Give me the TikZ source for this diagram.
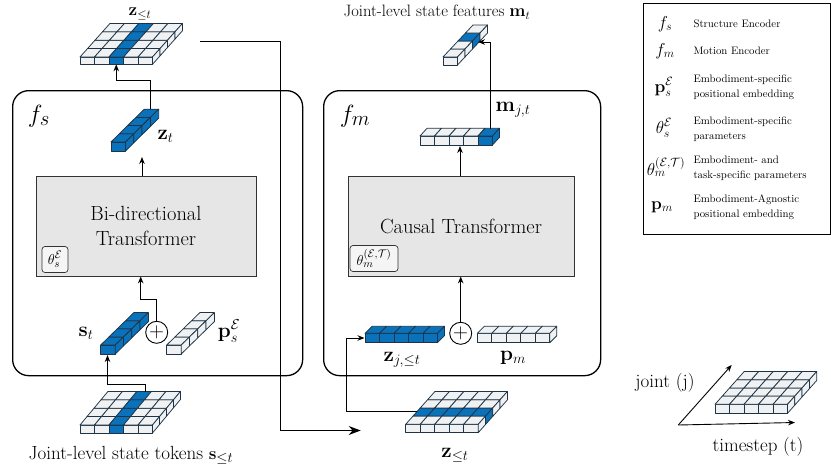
\documentclass[tikz,border=0pt]{standalone}
\usepackage{amsmath,amssymb}
\usetikzlibrary{arrows.meta,calc}
\definecolor{cblue}{HTML}{0A72BA}
\definecolor{cwhite}{HTML}{F0F1F2}
\definecolor{cedge}{HTML}{1E3446}
\definecolor{gfill}{HTML}{E6E6E6}
% #1 X, #2 Y (front top-left), #3 ncols, #4 nrows, #5 blue col, #6 blue row, #7 dx, #8 dy, #9 h
\newcommand{\cubegrid}[9]{%
  \foreach \ic in {1,...,#3}{%
    \pgfmathtruncatemacro{\bl}{or(\ic-1==#5,#6==0)}%
    \ifnum\bl=1 \def\fc{cblue}\else\def\fc{cwhite}\fi
    \draw[cellst,fill=\fc] ({#1+(\ic-1)*14.5},{#2}) rectangle ++(14.5,#9);
    \foreach \ir in {1,...,#4}{%
      \pgfmathtruncatemacro{\bl}{or(\ic-1==#5,\ir-1==#6)}%
      \ifnum\bl=1 \def\fc{cblue}\else\def\fc{cwhite}\fi
      \draw[cellst,fill=\fc] ({#1+(\ic-1)*14.5+(\ir-1)*(#7)},{#2+(\ir-1)*(#8)}) -- ++(14.5,0) -- ++(#7,#8) -- ++(-14.5,0) -- cycle;
    }
  }
  \foreach \ir in {1,...,#4}{%
    \pgfmathtruncatemacro{\bl}{or(#3-1==#5,\ir-1==#6)}%
    \ifnum\bl=1 \def\fc{cblue}\else\def\fc{cwhite}\fi
    \draw[cellst,fill=\fc] ({#1+#3*14.5+(\ir-1)*(#7)},{#2+(\ir-1)*(#8)}) -- ++(#7,#8) -- ++(0,#9) -- ++({-(#7)},{-(#8)}) -- cycle;
  }
}
\begin{document}
\begin{tikzpicture}[x=1pt,y=-1pt,
  cellst/.style={draw=cedge, line width=0.75pt, line join=round},
  conn/.style={draw=black, line width=0.9pt, -{Stealth[length=7pt,width=5.5pt]}},
  bigconn/.style={draw=black, line width=1pt, -{Stealth[length=12pt,width=9pt]}},
  bigbox/.style={draw=black, line width=1.3pt, rounded corners=16pt, inner sep=0pt},
  graybox/.style={draw=black!80, fill=gfill, line width=0.8pt, align=center, font=\fontsize{20.5}{24.5}\selectfont},
  thbox/.style={draw=black!80, fill=white!96!black, rounded corners=3pt, line width=0.7pt, inner sep=1pt, font=\fontsize{15}{16}\selectfont},
  lbl/.style={font=\fontsize{19}{22}\selectfont},
  mlbl/.style={font=\fontsize{20}{22}\selectfont},
  fsym/.style={font=\fontsize{28}{30}\selectfont},
  legtxt/.style={font=\fontsize{10.8}{14.8}\selectfont, align=left, anchor=west},
  legsym/.style={font=\fontsize{17}{18}\selectfont},
  opl/.style={draw=black, circle, line width=0.9pt, minimum size=22pt, inner sep=0pt, font=\fontsize{20}{20}\selectfont},
]
\useasboundingbox (0,0) rectangle (831,469);

% big encoder boxes
\node[bigbox, minimum width=290pt, minimum height=285pt, anchor=north west] (fsbox) at (12,90) {};
\node[bigbox, minimum width=277pt, minimum height=285pt, anchor=north west] (fmbox) at (323,90) {};
\node[fsym] (fsLbl) at (39,116) {$f_s$};
\node[fsym] (fmLbl) at (355,116) {$f_m$};

% transformer boxes
\node[graybox, minimum width=220pt, minimum height=100pt] (bidir) at (146,226) {Bi-directional\\Transformer};
\node[graybox, minimum width=226pt, minimum height=100pt] (causal) at (461,226) {Causal Transformer};
\node[thbox, minimum size=26pt] (thS) at (55,259.5) {$\theta_s^{\mathcal{E}}$};
\node[thbox, minimum width=48pt, minimum height=26pt] (thM) at (374,258.5) {$\theta_m^{(\mathcal{E},\mathcal{T})}$};

% ---------- left side cubes ----------
\cubegrid{80}{57}{5}{4}{2}{-1}{7.5}{-8.4}{7.3}
\cubegrid{111}{142}{1}{4}{0}{-1}{8.3}{-8.2}{9}
\cubegrid{100.7}{345}{1}{4}{0}{-1}{8.3}{-8.1}{9}
\cubegrid{166.7}{345}{1}{4}{-1}{-1}{8.3}{-8.1}{9}
\cubegrid{80}{425}{5}{4}{2}{-1}{7}{-8.4}{8}

% ---------- right side cubes ----------
\cubegrid{420}{136}{5}{1}{4}{-1}{7}{-7.7}{9}
\cubegrid{443}{57}{1}{4}{-1}{2}{7.5}{-8}{8}
\cubegrid{365}{333.3}{5}{1}{-1}{0}{7}{-7}{9.4}
\cubegrid{477.3}{333.3}{5}{1}{-1}{-1}{7}{-7}{9.4}
\cubegrid{405.7}{424.3}{5}{4}{-1}{1}{7.3}{-8.2}{8.4}

% axis grid
\cubegrid{715}{404.3}{5}{4}{-1}{-1}{7.3}{-8.2}{9}

% plus circles
\node[opl] (oplusS) at (156.7,332.3) {$+$};
\node[opl] (oplusM) at (460.7,333.3) {$+$};

% labels
\node[font=\fontsize{18}{20}\selectfont] (zTopLbl) at (140,14) {$\mathbf{z}_{\leq t}$};
\node[mlbl, anchor=west] (ztLbl) at (154,136) {$\mathbf{z}_t$};
\node[mlbl] (stLbl) at (86,333) {$\mathbf{s}_t$};
\node[mlbl] (psLbl) at (229,331) {$\mathbf{p}_s^{\mathcal{E}}$};
\node[lbl] (tokLbl) at (131,455) {Joint-level state tokens $\mathbf{s}_{\leq t}$};
\node[font=\fontsize{16.5}{19}\selectfont] (featLbl) at (437,12) {Joint-level state features $\mathbf{m}_t$};
\node[mlbl] (mjLbl) at (513,110) {$\mathbf{m}_{j,t}$};
\node[mlbl] (zjLbl) at (402,360) {$\mathbf{z}_{j,\leq t}$};
\node[mlbl] (pmLbl) at (513,358) {$\mathbf{p}_m$};
\node[mlbl] (zBotLbl) at (455,455) {$\mathbf{z}_{\leq t}$};

% ---------- connectors ----------
\coordinate (zgBlue) at (116.25,64.3);
\coordinate (ztTop) at (150.5,108.5);
\coordinate (ztBelow) at (142,157);
\coordinate (sJoin) at (140.7,299.3);
\coordinate (stBot) at (107.5,355);
\coordinate (sgBack) at (145.5,391.8);
\coordinate (sgTurn) at (145.5,384);
\coordinate (mjBot) at (460,146);
\coordinate (mjTop) at (490.7,128.5);
\coordinate (mtSide) at (478,42);
\coordinate (zrRow) at (416.7,411.7);
\coordinate (zjCorner) at (346,411.7);
\coordinate (zjLeft) at (364.5,338);
\coordinate (zgRight) at (200,41.7);
\coordinate (longA) at (280,41.7);
\coordinate (zrArrow) at (360.7,430.5);

\draw[conn] (ztTop) |- (116.25,80) -- (zgBlue);
\draw[conn] (ztBelow |- bidir.north) -- (ztBelow);
\draw[conn] (oplusS.north) |- (sJoin) -- (sJoin |- bidir.south);
\draw[conn] (sgBack) -- (sgTurn) -| (stBot);
\draw[conn] (mjBot |- causal.north) -- (mjBot);
\draw[conn] (mjTop) |- (mtSide);
\draw[conn] (oplusM.north) -- (oplusM.north |- causal.south);
\draw[conn] (zrRow) -- (zjCorner) |- (zjLeft);
\draw[bigconn] (zgRight) -- (longA) |- (zrArrow);

% axes
\coordinate (axO) at (678.3,425);
\coordinate (axT) at (795,422.5);
\coordinate (axJ) at (731.7,365);
\draw[conn] (axO) -- (axT);
\draw[conn] (axO) -- (axJ);
\node[lbl] (jLbl) at (665,383) {joint (j)};
\node[lbl] (tLbl) at (758,447) {timestep (t)};

% ---------- legend ----------
\node[draw=black, line width=0.8pt, minimum width=187pt, minimum height=231pt, anchor=north west, inner sep=0pt] (legend) at (642.5,2.5) {};
\node[legsym] (sym1) at (665,24) {$f_s$};
\node[legtxt] (leg1) at (690,24) {Structure Encoder};
\node[legsym] (sym2) at (665,51) {$f_m$};
\node[legtxt] (leg2) at (690,51) {Motion Encoder};
\node[legsym] (sym3) at (664,87) {$\mathbf{p}_s^{\mathcal{E}}$};
\node[legtxt] (leg3) at (690,87.5) {Embodiment-specific\\positional embedding};
\node[legsym] (sym4) at (664,128) {$\theta_s^{\mathcal{E}}$};
\node[legtxt] (leg4) at (690,129) {Embodiment-specific\\parameters};
\node[legsym] (sym5) at (666,167) {$\theta_m^{(\mathcal{E},\mathcal{T})}$};
\node[legtxt] (leg5) at (690,168) {Embodiment- and\\task-specific parameters};
\node[legsym] (sym6) at (662,207) {$\mathbf{p}_m$};
\node[legtxt] (leg6) at (690,207.5) {Embodiment-Agnostic\\positional embedding};
\end{tikzpicture}
\end{document}
